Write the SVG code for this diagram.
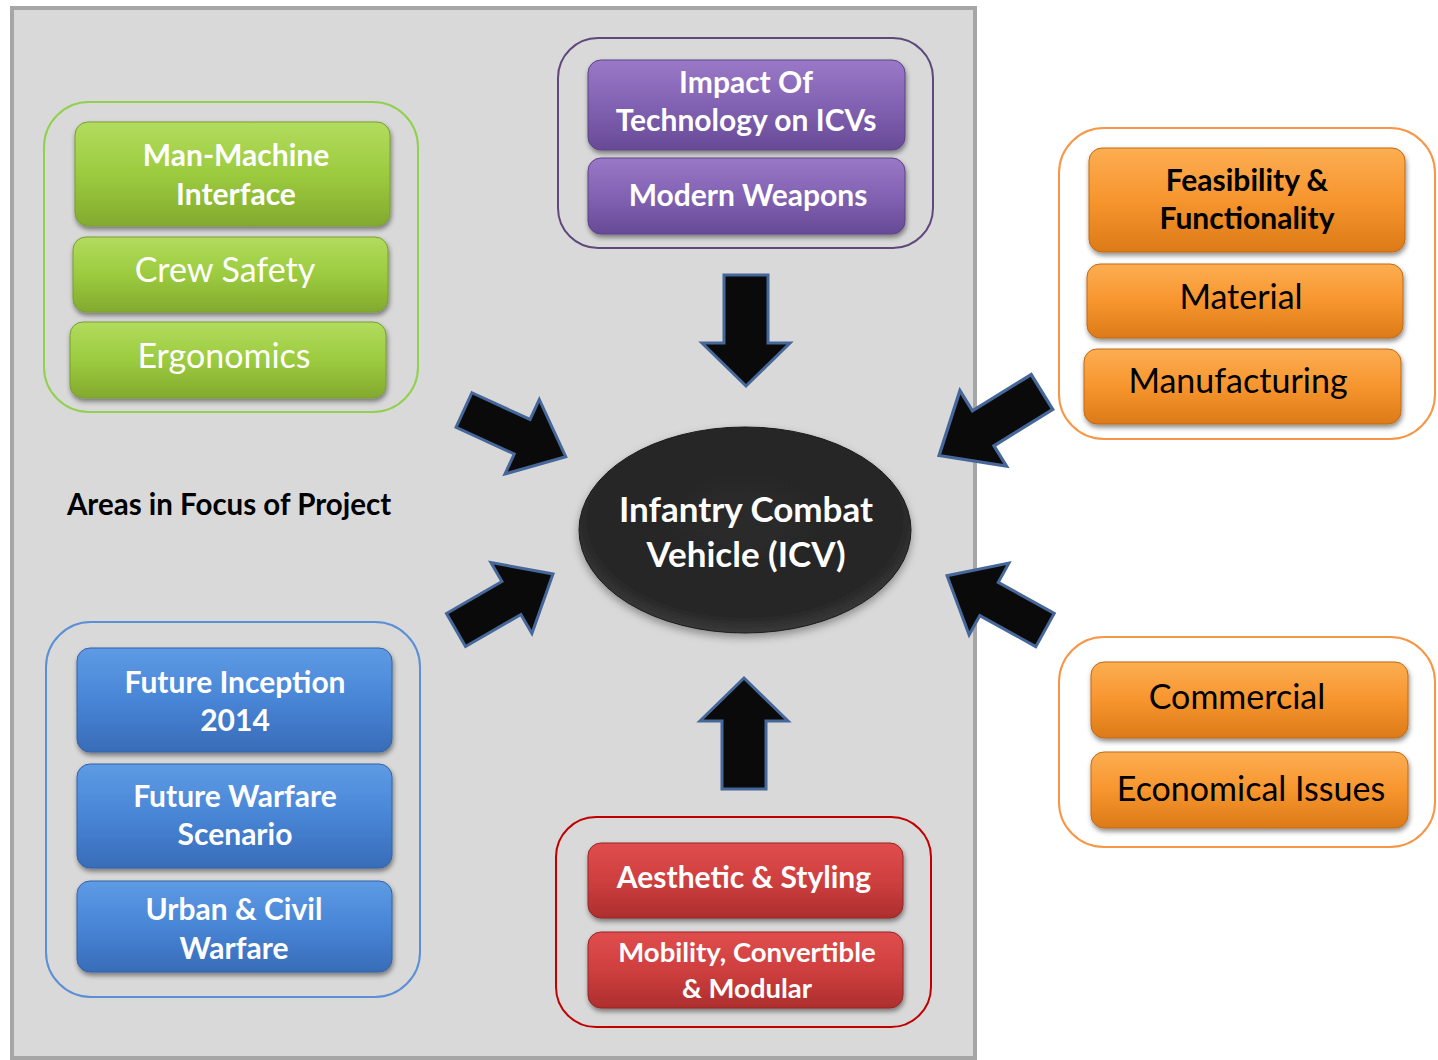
<svg xmlns="http://www.w3.org/2000/svg" width="1438" height="1060" viewBox="0 0 1438 1060">
<defs>
<linearGradient id="gGreen" x1="0" y1="0" x2="0" y2="1"><stop offset="0" stop-color="#b2dc5e"/><stop offset="0.5" stop-color="#9ccb3f"/><stop offset="1" stop-color="#82aa2e"/></linearGradient>
<linearGradient id="gBlue" x1="0" y1="0" x2="0" y2="1"><stop offset="0" stop-color="#5e9be4"/><stop offset="0.5" stop-color="#4885d6"/><stop offset="1" stop-color="#386cb8"/></linearGradient>
<linearGradient id="gPurple" x1="0" y1="0" x2="0" y2="1"><stop offset="0" stop-color="#9a78c8"/><stop offset="0.5" stop-color="#8262b2"/><stop offset="1" stop-color="#674a96"/></linearGradient>
<linearGradient id="gOrange" x1="0" y1="0" x2="0" y2="1"><stop offset="0" stop-color="#fcae52"/><stop offset="0.5" stop-color="#f7952e"/><stop offset="1" stop-color="#dc7a18"/></linearGradient>
<linearGradient id="gRed" x1="0" y1="0" x2="0" y2="1"><stop offset="0" stop-color="#e04d4d"/><stop offset="0.5" stop-color="#cf3f3f"/><stop offset="1" stop-color="#ad2e2e"/></linearGradient>
<radialGradient id="gEll" cx="0.5" cy="0.45" r="0.55"><stop offset="0" stop-color="#2a2a2a"/><stop offset="0.85" stop-color="#262626"/><stop offset="1" stop-color="#3a3a3a"/></radialGradient>
<filter id="sh" x="-10%" y="-10%" width="120%" height="140%"><feDropShadow dx="1" dy="3" stdDeviation="2.5" flood-color="#000" flood-opacity="0.45"/></filter>
<filter id="shE" x="-10%" y="-10%" width="120%" height="130%"><feDropShadow dx="0" dy="4" stdDeviation="4" flood-color="#000" flood-opacity="0.35"/></filter>
<path id="arrDiag" d="M0,-19 L64,-19 L64,-41 L112,0 L64,41 L64,19 L0,19 Z"/>
<path id="arrVert" d="M-22,0 L-22,68 L-44,68 L0,111 L44,68 L22,68 L22,0 Z"/>
</defs>
<style>
.grp{fill:none;stroke-width:2}
.box{stroke-width:1}
.t{font-family:Lato,"Open Sans","Liberation Sans",sans-serif;text-anchor:middle}
.b{font-weight:700;font-size:30px}
.r{font-weight:400;font-size:34px}
.w{fill:#ffffff}
.k{fill:#000000}
.arr{fill:#0a0a0a;stroke:#46679a;stroke-width:3;stroke-linejoin:miter}
</style>
<rect x="12" y="8" width="963" height="1050" fill="#d9d9d9" stroke="#a6a6a6" stroke-width="4"/>

<g id="group-green">
<rect class="grp" x="44" y="102" width="374" height="310" rx="45" stroke="#92d050"/>
<g id="node-man-machine"><rect class="box" x="75" y="122" width="315" height="104" rx="13" fill="url(#gGreen)" stroke="#7a9e34" filter="url(#sh)"/><text class="t b w" x="236" y="166">Man-Machine</text><text class="t b w" x="236" y="205">Interface</text></g>
<g id="node-crew-safety"><rect class="box" x="73" y="237" width="315" height="75" rx="13" fill="url(#gGreen)" stroke="#7a9e34" filter="url(#sh)"/><text class="t r w" x="225" y="282">Crew Safety</text></g>
<g id="node-ergonomics"><rect class="box" x="70" y="322" width="316" height="76" rx="13" fill="url(#gGreen)" stroke="#7a9e34" filter="url(#sh)"/><text class="t r w" x="224" y="368">Ergonomics</text></g>
</g>

<g id="label-areas"><text class="t k" x="229" y="515" font-weight="700" font-size="29.5">Areas in Focus of Project</text></g>

<g id="group-blue">
<rect class="grp" x="46" y="622" width="374" height="375" rx="45" stroke="#5b8fd6"/>
<g id="node-future-inception"><rect class="box" x="77" y="648" width="315" height="104" rx="13" fill="url(#gBlue)" stroke="#3562a8" filter="url(#sh)"/><text class="t b w" x="235" y="693">Future Inception</text><text class="t b w" x="235" y="731">2014</text></g>
<g id="node-future-warfare"><rect class="box" x="77" y="764" width="315" height="104" rx="13" fill="url(#gBlue)" stroke="#3562a8" filter="url(#sh)"/><text class="t b w" x="235" y="807">Future Warfare</text><text class="t b w" x="235" y="845">Scenario</text></g>
<g id="node-urban-civil"><rect class="box" x="77" y="881" width="315" height="91" rx="13" fill="url(#gBlue)" stroke="#3562a8" filter="url(#sh)"/><text class="t b w" x="234" y="920">Urban &amp; Civil</text><text class="t b w" x="234" y="959">Warfare</text></g>
</g>

<g id="group-purple">
<rect class="grp" x="558" y="38" width="375" height="210" rx="40" stroke="#5f497a"/>
<g id="node-impact"><rect class="box" x="588" y="60" width="317" height="90" rx="13" fill="url(#gPurple)" stroke="#5a4286" filter="url(#sh)"/><text class="t b w" x="746" y="93">Impact Of</text><text class="t b w" x="746" y="131">Technology on ICVs</text></g>
<g id="node-modern-weapons"><rect class="box" x="588" y="158" width="317" height="76" rx="13" fill="url(#gPurple)" stroke="#5a4286" filter="url(#sh)"/><text class="t b w" x="748" y="206">Modern Weapons</text></g>
</g>

<g id="group-orange-top">
<rect class="grp" x="1059" y="128" width="376" height="311" rx="45" stroke="#f79646"/>
<g id="node-feasibility"><rect class="box" x="1089" y="148" width="316" height="104" rx="13" fill="url(#gOrange)" stroke="#c06a14" filter="url(#sh)"/><text class="t b k" x="1247" y="191">Feasibility &amp;</text><text class="t b k" x="1247" y="229">Functionality</text></g>
<g id="node-material"><rect class="box" x="1087" y="264" width="316" height="74" rx="13" fill="url(#gOrange)" stroke="#c06a14" filter="url(#sh)"/><text class="t r k" x="1241" y="309">Material</text></g>
<g id="node-manufacturing"><rect class="box" x="1084" y="349" width="317" height="75" rx="13" fill="url(#gOrange)" stroke="#c06a14" filter="url(#sh)"/><text class="t r k" x="1238" y="393">Manufacturing</text></g>
</g>

<g id="group-orange-bottom">
<rect class="grp" x="1059" y="637" width="376" height="210" rx="45" stroke="#f79646"/>
<g id="node-commercial"><rect class="box" x="1091" y="662" width="317" height="76" rx="13" fill="url(#gOrange)" stroke="#c06a14" filter="url(#sh)"/><text class="t r k" x="1237" y="709">Commercial</text></g>
<g id="node-economical"><rect class="box" x="1091" y="752" width="317" height="76" rx="13" fill="url(#gOrange)" stroke="#c06a14" filter="url(#sh)"/><text class="t r k" x="1251" y="801">Economical Issues</text></g>
</g>

<g id="group-red">
<rect class="grp" x="556" y="817" width="375" height="210" rx="40" stroke="#c00000"/>
<g id="node-aesthetic"><rect class="box" x="588" y="843" width="315" height="75" rx="13" fill="url(#gRed)" stroke="#962626" filter="url(#sh)"/><text class="t b w" x="744" y="888">Aesthetic &amp; Styling</text></g>
<g id="node-mobility"><rect class="box" x="588" y="932" width="315" height="76" rx="13" fill="url(#gRed)" stroke="#962626" filter="url(#sh)"/><text class="t w" x="747" y="962" font-weight="700" font-size="27.5">Mobility, Convertible</text><text class="t w" x="747" y="998" font-weight="700" font-size="27.5">&amp; Modular</text></g>
</g>

<g id="node-icv">
<ellipse cx="745" cy="530" rx="166" ry="103" fill="url(#gEll)" stroke="#1a1a1a" stroke-width="1" filter="url(#shE)"/>
<text class="t w" x="746" y="522" font-weight="700" font-size="35">Infantry Combat</text>
<text class="t w" x="746" y="567" font-weight="700" font-size="35">Vehicle (ICV)</text>
</g>

<g id="connectors">
<use href="#arrVert" class="arr" transform="translate(746,275)"/>
<use href="#arrVert" class="arr" transform="translate(744,789) rotate(180)"/>
<use href="#arrDiag" class="arr" transform="translate(464,410) rotate(24.7)"/>
<use href="#arrDiag" class="arr" transform="translate(1042,392) rotate(148.3) scale(1.08)"/>
<use href="#arrDiag" class="arr" transform="translate(456,630) rotate(-30)"/>
<use href="#arrDiag" class="arr" transform="translate(1045,630) rotate(209)"/>
</g>
</svg>
